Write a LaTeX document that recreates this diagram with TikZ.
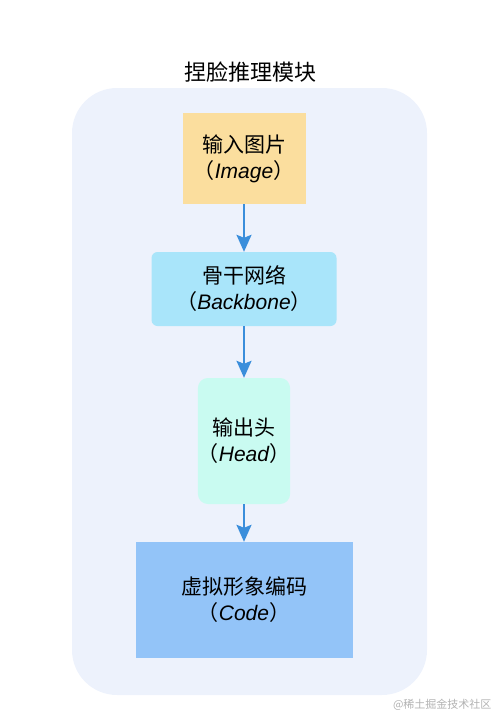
\documentclass[tikz,border=0pt]{standalone}
\usepackage{fontspec}
\setmainfont{Noto Sans CJK SC}
\newfontfamily\latinf{Liberation Sans}
\usetikzlibrary{arrows.meta}
\definecolor{fondbleu}{HTML}{EDF2FC}
\definecolor{orangeclair}{HTML}{FBDE9E}
\definecolor{cyanclair}{HTML}{A9E5FA}
\definecolor{mentheclair}{HTML}{C9FBF1}
\definecolor{bleumoyen}{HTML}{93C4F8}
\definecolor{bleufleche}{HTML}{3A8EDB}
\begin{document}
\begin{tikzpicture}[x=1pt, y=-1pt]
			\tikzset{boite/.style={inner sep=0pt, align=center, font=\fontsize{21}{26}\selectfont}, fleche/.style={>={Stealth[length=17pt, width=15pt, inset=3pt]}, ->, line width=2pt, draw=bleufleche, color=bleufleche}};
			\useasboundingbox (0,0) rectangle (500,715);

			\node[fill=fondbleu, rounded corners=45pt, minimum width=355pt, minimum height=607pt] (fond) at (249.5, 391.5) {};
			\node[font=\fontsize{22}{26}\selectfont] (titre) at (250, 72) {捏脸推理模块};

			\node[boite, fill=orangeclair, minimum width=123pt, minimum height=91pt] (image) at (244, 158.5) {输入图片\\（{\latinf\itshape Image}）};
			\node[boite, fill=cyanclair, rounded corners=6pt, minimum width=185pt, minimum height=74pt] (backbone) at (244, 289) {骨干网络\\（{\latinf\itshape Backbone}）};
			\node[boite, fill=mentheclair, rounded corners=10pt, minimum width=92pt, minimum height=126pt] (head) at (244, 441) {输出头\\（{\latinf\itshape Head}）};
			\node[boite, fill=bleumoyen, minimum width=217pt, minimum height=116pt] (code) at (244, 600) {虚拟形象编码\\（{\latinf\itshape Code}）};

			\node[anchor=east, text=black!30, font=\fontsize{11}{13}\selectfont] (marque) at (495, 705) {@稀土掘金技术社区};

			\draw[fleche] (image) to (backbone);
			\draw[fleche] (backbone) to (head);
			\draw[fleche] (head) to (code);
		\end{tikzpicture}
\end{document}
